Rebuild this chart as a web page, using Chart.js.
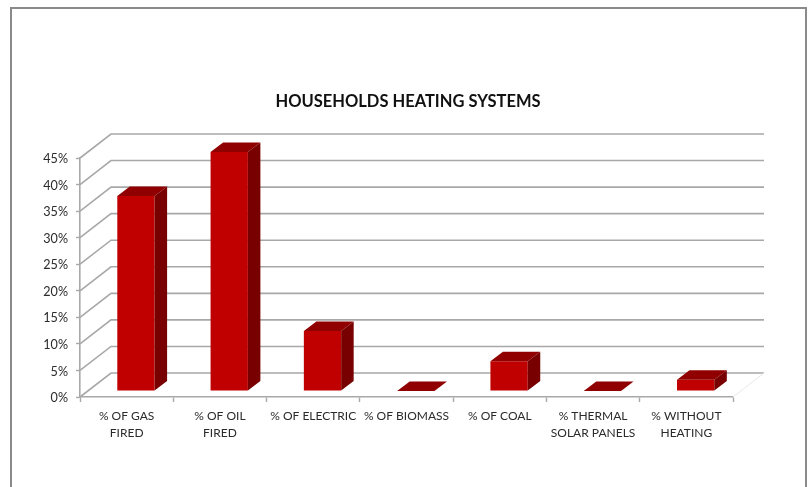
<!DOCTYPE html>
<html>
<head>
<meta charset="utf-8">
<style>
html,body{margin:0;padding:0;background:#fff;width:809px;height:487px;overflow:hidden}
#frame{position:absolute;left:10px;top:7px;width:793px;height:500px;border:2px solid #8a8a8a;box-sizing:content-box}
canvas{position:absolute;left:0;top:0}
</style>
<script src="https://cdn.jsdelivr.net/npm/chart.js@4/dist/chart.umd.js"></script>
</head>
<body>
<div id="frame"></div>
<canvas id="c" width="809" height="487"></canvas>
<script>
const chartTitle = "HOUSEHOLDS HEATING SYSTEMS";
const categories = [["% OF GAS","FIRED"],["% OF OIL","FIRED"],"% OF ELECTRIC","% OF BIOMASS","% OF COAL",["% THERMAL","SOLAR PANELS"],["% WITHOUT","HEATING"]];
const seriesValues = [36.7, 45, 11.3, 0, 5.6, 0, 2.1];

const WALL_DX = 31, WALL_DY = 24;
const BAR_OFF_X = 9.3, BAR_OFF_Y = 6;
const BAR_DX = 12.5, BAR_DY = 9.5;
const GRID = "#a8a8a8";

const walls = {
  id: "walls",
  beforeDatasetsDraw(chart) {
    const { ctx, scales: { x, y }, chartArea: a } = chart;
    ctx.save();
    ctx.strokeStyle = GRID;
    ctx.lineWidth = 1.6;
    y.ticks.forEach(t => {
      const py = y.getPixelForValue(t.value);
      ctx.beginPath();
      ctx.moveTo(a.left, py);
      ctx.lineTo(a.left + WALL_DX, py - WALL_DY);
      ctx.lineTo(a.right + WALL_DX, py - WALL_DY);
      ctx.stroke();
    });
    ctx.strokeStyle = "#e8e8e8";
    ctx.lineWidth = 1;
    ctx.beginPath();
    ctx.moveTo(a.right, a.bottom);
    ctx.lineTo(a.right + WALL_DX, a.bottom - WALL_DY);
    ctx.stroke();
    ctx.restore();
  }
};

const bars3d = {
  id: "bars3d",
  beforeDatasetDraw(chart) {
    chart.ctx.save();
    chart.ctx.translate(BAR_OFF_X, -BAR_OFF_Y);
  },
  afterDatasetDraw(chart, args) {
    const ctx = chart.ctx;
    args.meta.data.forEach(b => {
      const l = b.x - b.width / 2, r = b.x + b.width / 2, t = b.y, bt = b.base;
      ctx.fillStyle = "#900000";
      ctx.beginPath();
      ctx.moveTo(l, t);
      ctx.lineTo(l + BAR_DX, t - BAR_DY);
      ctx.lineTo(r + BAR_DX, t - BAR_DY);
      ctx.lineTo(r, t);
      ctx.closePath();
      ctx.fill();
      if (bt - t > 0.5) {
        ctx.fillStyle = "#780000";
        ctx.beginPath();
        ctx.moveTo(r, t);
        ctx.lineTo(r + BAR_DX, t - BAR_DY);
        ctx.lineTo(r + BAR_DX, bt - BAR_DY);
        ctx.lineTo(r, bt);
        ctx.closePath();
        ctx.fill();
      }
    });
    ctx.restore();
  }
};

new Chart(document.getElementById("c"), {
  type: "bar",
  data: {
    labels: categories,
    datasets: [{
      data: seriesValues,
      backgroundColor: "#c00000",
      borderWidth: 0,
      barPercentage: 0.4,
      categoryPercentage: 1,
      clip: false
    }]
  },
  plugins: [walls, bars3d],
  options: {
    responsive: false,
    animation: false,
    devicePixelRatio: 1,
    layout: { padding: { left: 14, right: 7, top: 0, bottom: 0 } },
    plugins: {
      legend: { display: false },
      tooltip: { enabled: false },
      title: {
        display: true,
        text: chartTitle,
        color: "#111111",
        font: { family: "Lato", size: 16.5, weight: "bold", lineHeight: 1.2 },
        padding: { top: 92, bottom: 46.2 }
      }
    },
    scales: {
      x: {
        offset: true,
        afterFit(s) { s.height = 90; },
        border: { color: GRID, width: 1.6 },
        grid: { drawOnChartArea: false, drawTicks: true, tickLength: 5, tickWidth: 1.4, tickColor: GRID },
        ticks: {
          autoSkip: false, maxRotation: 0, minRotation: 0, padding: 6,
          color: "#2b2b2b",
          font: { family: "Lato", size: 12, lineHeight: 1.42 }
        }
      },
      y: {
        min: 0, max: 45,
        afterFit(s) { s.width = 66; },
        border: { color: GRID, width: 1.6 },
        grid: { drawOnChartArea: false, drawTicks: true, tickLength: 4, tickWidth: 1.4, tickColor: GRID },
        ticks: {
          stepSize: 5, padding: 8, labelOffset: 1,
          color: "#2b2b2b",
          font: { family: "Lato", size: 12.6 },
          callback: v => v + "%"
        }
      },
      spacer: {
        position: "right",
        display: true,
        afterFit(s) { s.width = 69; },
        border: { display: false },
        grid: { display: false },
        ticks: { display: false }
      }
    }
  }
});
</script>
</body>
</html>
